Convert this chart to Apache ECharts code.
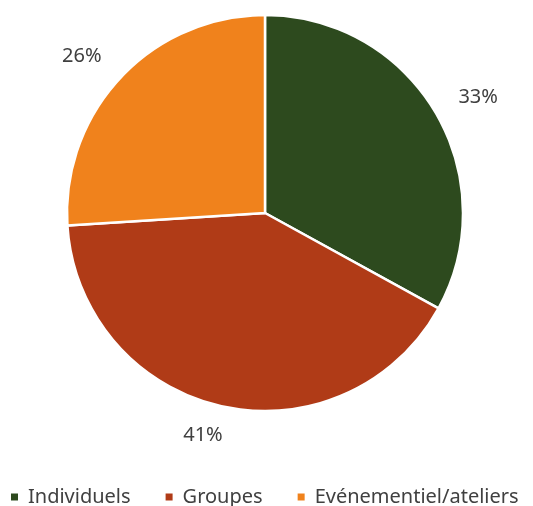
<!DOCTYPE html>
<html><head><meta charset="utf-8">
<script src="https://cdn.jsdelivr.net/npm/echarts@6/dist/echarts.min.js"></script>
<style>html,body{margin:0;padding:0;background:#fff}#c{width:533px;height:506px}</style>
</head><body><div id="c"></div>
<script>
var categories = ['Individuels', 'Groupes', 'Evénementiel/ateliers'];
var values = [33, 41, 26];
var colors = ['#2D4A1E', '#B03B17', '#F0821C'];

var labelOffsets = [[4, 8], [-9, -15], [-6, 10]];
var chart = echarts.init(document.getElementById('c'), null, {renderer: 'canvas'});
var data = categories.map(function (n, i) { return {name: n, value: values[i], itemStyle: {color: colors[i]}}; });
var labelData = categories.map(function (n, i) { return {name: n, value: values[i], label: {offset: labelOffsets[i]}}; });
chart.setOption({
  animation: false,
  legend: {
    top: 482, left: 4,
    itemWidth: 9, itemHeight: 9, itemGap: 33,
    icon: 'rect',
    textStyle: {fontFamily: 'Noto Sans', fontSize: 20, color: '#404040', padding: [0, 0, 0, 4]},
    data: categories
  },
  series: [{
    type: 'pie',
    center: [265, 213], radius: [0, 198],
    startAngle: 90, clockwise: true,
    itemStyle: {borderColor: '#fff', borderWidth: 2.5},
    label: {show: false}, labelLine: {show: false},
    emphasis: {disabled: true},
    data: data
  }, {
    type: 'pie',
    center: [265, 213], radius: [234, 246],
    startAngle: 90, clockwise: true,
    silent: true,
    itemStyle: {color: 'rgba(0,0,0,0)'},
    label: {show: true, position: 'inside', formatter: '{c}%', fontFamily: 'Noto Sans', fontSize: 20, color: '#404040'},
    labelLine: {show: false},
    data: labelData
  }]
});
</script></body></html>
